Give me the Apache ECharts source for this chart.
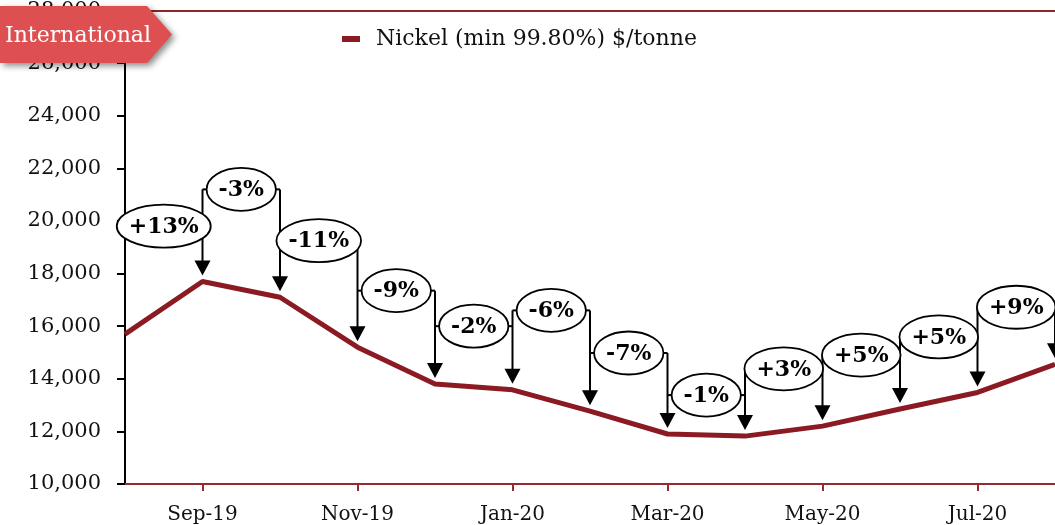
<!DOCTYPE html>
<html>
<head>
<meta charset="utf-8">
<script src="https://cdn.jsdelivr.net/npm/echarts@6/dist/echarts.min.js"></script>
<style>
  html, body { margin: 0; padding: 0; background: #ffffff; }
  #chart { width: 1055px; height: 525px; }
</style>
</head>
<body>
<div id="chart"></div>
<script>
const months = ['Aug-19','Sep-19','Oct-19','Nov-19','Dec-19','Jan-20','Feb-20','Mar-20','Apr-20','May-20','Jun-20','Jul-20','Aug-20'];
const nickel = [15700, 17700, 17100, 15200, 13800, 13580, 12770, 11900, 11820, 12200, 12850, 13480, 14550];
const changeLabels = ['+13%','-3%','-11%','-9%','-2%','-6%','-7%','-1%','+3%','+5%','+5%','+9%'];
const calloutLevel = [19800, 21200, 19250, 17350, 16000, 16600, 14980, 13380, 14380, 14900, 15590, 16720];
const yMin = 10000, yMax = 28000, yStep = 2000;
const seriesName = 'Nickel (min 99.80%) $/tonne';

const FONT = '"DejaVu Serif", "Liberation Serif", serif';
const CALLOUT_FONT = 'bold 22px "DejaVu Serif"';
const measureCtx = document.createElement('canvas').getContext('2d');
function textWidth(t) { measureCtx.font = CALLOUT_FONT; return measureCtx.measureText(t).width; }

const chart = echarts.init(document.getElementById('chart'), null, { renderer: 'canvas' });

function renderCallout(params, api) {
  const i = api.value(0);
  const x0 = api.coord([i - 1, yMin])[0];
  const p = api.coord([i, nickel[i]]);
  const x1 = p[0], yd = p[1];
  const cy = api.coord([i, calloutLevel[i - 1]])[1];
  const nextLevel = i < changeLabels.length ? calloutLevel[i] : -Infinity;
  const topY = api.coord([i, Math.max(calloutLevel[i - 1], nextLevel)])[1];
  const tipY = yd - 6, headH = 15, headW = 8;
  const cx = (x0 + x1) / 2;
  const label = changeLabels[i - 1];
  const rx = textWidth(label) / 2 + 12, ry = 21.5;
  const stroke = { stroke: '#000', lineWidth: 2 };
  const children = [
    { type: 'line', shape: { x1: x1, y1: topY, x2: x1, y2: tipY - headH + 1 }, style: stroke },
    { type: 'polygon', shape: { points: [[x1 - headW, tipY - headH], [x1 + headW, tipY - headH], [x1, tipY]] }, style: { fill: '#000' } }
  ];
  if (i > 1 && cx - rx > x0) children.push({ type: 'line', shape: { x1: x0, y1: cy, x2: cx - rx, y2: cy }, style: stroke });
  if (cx + rx < x1) children.push({ type: 'line', shape: { x1: cx + rx, y1: cy, x2: x1, y2: cy }, style: stroke });
  children.push({ type: 'ellipse', shape: { cx: cx, cy: cy, rx: rx, ry: ry }, style: { fill: '#fff', stroke: '#000', lineWidth: 1.8 } });
  children.push({ type: 'text', style: { text: label, x: cx, y: cy + 1, align: 'center', verticalAlign: 'middle', font: CALLOUT_FONT, fill: '#000' } });
  return { type: 'group', children: children };
}

const option = {
  animation: false,
  backgroundColor: '#ffffff',
  grid: { left: 125, right: 0, top: 9, bottom: 40, containLabel: false },
  legend: {
    data: [seriesName],
    left: 337, top: 23,
    icon: 'rect', itemWidth: 18, itemHeight: 6,
    textStyle: { fontFamily: FONT, fontSize: 22, color: '#111', padding: [0, 0, 0, 11] }
  },
  xAxis: [{
    type: 'category', data: months, boundaryGap: false,
    axisLine: { lineStyle: { color: '#952a2f', width: 2 } },
    axisTick: { show: true, length: 7, lineStyle: { color: '#952a2f', width: 2 }, interval: function (idx) { return idx % 2 === 1; } },
    axisLabel: { interval: function (idx) { return idx % 2 === 1; }, margin: 21, fontFamily: FONT, fontSize: 20, color: '#111' },
    splitLine: { show: false }
  }, {
    type: 'category', data: months, boundaryGap: false, position: 'top',
    axisLine: { lineStyle: { color: '#8e252b', width: 2 } },
    axisTick: { show: false }, axisLabel: { show: false }, splitLine: { show: false }
  }],
  yAxis: [{
    type: 'value', min: yMin, max: yMax, interval: yStep,
    axisLine: { show: true, lineStyle: { color: '#000', width: 2 } },
    axisTick: { show: true, length: 8, lineStyle: { color: '#000', width: 2 } },
    axisLabel: { margin: 24, fontFamily: FONT, fontSize: 21, color: '#111', formatter: function (v) { return v.toLocaleString('en-US'); } },
    splitLine: { show: false }
  }, {
    type: 'value', min: yMin, max: yMax, interval: yStep, position: 'right',
    axisLine: { show: true, lineStyle: { color: '#efdadd', width: 1 } },
    axisTick: { show: false }, axisLabel: { show: false }, splitLine: { show: false }
  }],
  series: [{
    name: seriesName, type: 'line', data: nickel,
    symbol: 'none', z: 2,
    lineStyle: { color: '#8b1a22', width: 5 }, itemStyle: { color: '#8b1a22' }
  }, {
    name: 'callouts', type: 'custom', z: 5, silent: true, clip: false,
    data: changeLabels.map(function (_, k) { return [k + 1]; }),
    encode: { x: 0 },
    renderItem: renderCallout
  }],
  graphic: [{
    type: 'polygon', z: 100,
    shape: { points: [[0, 6], [147, 6], [172, 34.5], [147, 63], [0, 63]] },
    style: { fill: '#dd4f50', shadowBlur: 6, shadowOffsetX: 3, shadowOffsetY: 3, shadowColor: 'rgba(0,0,0,0.45)' }
  }, {
    type: 'text', z: 101,
    style: { text: 'International', x: 5, y: 36, verticalAlign: 'middle', font: '22px "DejaVu Serif"', fill: '#ffffff' }
  }]
};
chart.setOption(option);
</script>
</body>
</html>
